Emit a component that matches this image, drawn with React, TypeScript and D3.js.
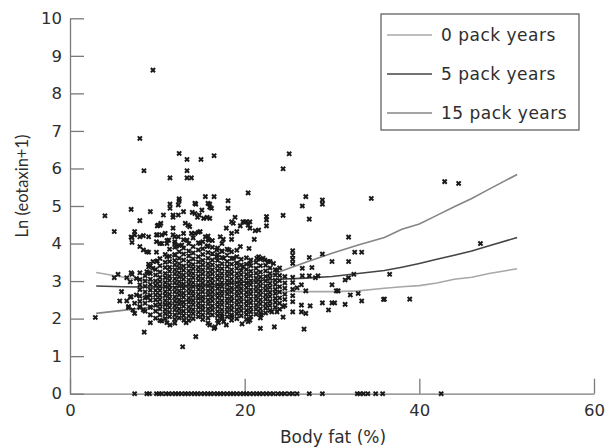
import React, { useEffect, useRef } from 'react';
import * as d3 from 'd3';

// tick values
const xTicks = [0, 20, 40, 60];
const yTicks = [0, 1, 2, 3, 4, 5, 6, 7, 8, 9, 10];

// fitted curves (body fat -> ln(eotaxin+1))
const curveX = [3, 6, 9, 12, 15, 18, 21, 24, 27, 30, 33, 36, 38, 40, 42, 44, 46, 48, 51.2];
const pack0 = [3.23, 3.11, 3.0, 2.93, 2.87, 2.82, 2.77, 2.73, 2.72, 2.72, 2.74, 2.81, 2.85, 2.88, 2.95, 3.05, 3.1, 3.2, 3.33];
const pack5 = [2.87, 2.85, 2.84, 2.85, 2.88, 2.93, 3.0, 3.05, 3.08, 3.12, 3.2, 3.28, 3.37, 3.47, 3.58, 3.69, 3.8, 3.94, 4.16];
const pack15 = [2.14, 2.22, 2.3, 2.42, 2.56, 2.75, 2.98, 3.25, 3.5, 3.74, 3.96, 4.16, 4.38, 4.52, 4.75, 4.98, 5.2, 5.45, 5.84];
const legendLabels = ['0 pack years', '5 pack years', '15 pack years'];

// scattered observations [body fat, ln(eotaxin+1)]
const outliers: [number, number][] = [
  [9.5, 8.62], [8.0, 6.8], [8.47, 5.94], [11.45, 5.75], [12.5, 6.4], [13.4, 6.24], [13.4, 5.94],
  [13.4, 5.75], [13.9, 5.75], [15.0, 6.24], [12.5, 5.19], [16.5, 6.34], [20.4, 5.35], [15.5, 5.25],
  [16.5, 5.25], [11.45, 5.05], [12.5, 5.14], [14.4, 5.05], [16.0, 5.05], [16.2, 4.94], [18.1, 5.14],
  [18.1, 4.94], [7.0, 4.91], [4.0, 4.74], [9.2, 4.85], [8.0, 4.61], [5.07, 4.32], [10.7, 4.76],
  [11.8, 4.7], [12.4, 4.76], [13.0, 4.85], [14.0, 4.83], [14.6, 4.7], [15.7, 4.7], [14.8, 4.76],
  [18.9, 4.7], [19.8, 4.58], [20.6, 4.58], [18.7, 4.54], [10.0, 4.47], [10.4, 4.54], [10.0, 4.23],
  [10.5, 4.23], [7.4, 4.32], [7.1, 4.16], [8.0, 4.18], [8.4, 4.21], [7.1, 4.03], [8.0, 3.92],
  [8.4, 3.83], [9.0, 3.77], [9.9, 3.77], [10.0, 3.54], [9.0, 3.45], [9.5, 3.34], [11.3, 4.09],
  [12.0, 4.18], [11.1, 3.65], [12.0, 3.69], [12.2, 3.93],
  [5.07, 3.09], [5.5, 3.18], [6.5, 3.09], [7.1, 3.18], [7.0, 3.22], [8.0, 3.22], [9.0, 3.22],
  [5.9, 2.72], [5.7, 2.47], [6.5, 2.47], [6.7, 2.32], [7.4, 2.41], [7.0, 2.58], [7.2, 2.23],
  [2.9, 2.03], [7.4, 2.14], [9.2, 1.89], [8.5, 1.64], [10.5, 1.94], [11.1, 1.89], [11.45, 1.83],
  [12.0, 1.88], [13.3, 1.89], [13.05, 1.96], [14.4, 1.52], [16.0, 1.83], [16.5, 1.74], [17.6, 1.92],
  [17.9, 1.83], [18.5, 1.96], [19.7, 1.86], [20.6, 1.96], [21.8, 1.74], [12.9, 1.25],
  [7.6, 2.63], [8.0, 2.32], [6.7, 2.3], [8.4, 2.23], [9.2, 2.3], [8.8, 2.58], [7.6, 3.07],
  [6.9, 2.98], [8.8, 3.25], [9.0, 3.38], [9.5, 3.52], [9.9, 3.52],
  [25.1, 6.39], [24.4, 5.99], [27.0, 5.25], [28.9, 5.16], [28.9, 5.05], [26.6, 5.0], [34.5, 5.2],
  [24.4, 4.75], [27.4, 4.65], [22.5, 4.72], [22.5, 4.63], [22.5, 4.47], [18.5, 4.58], [20.0, 4.57],
  [20.4, 4.49], [21.2, 4.34], [21.1, 4.11], [19.5, 4.47], [17.2, 4.18], [17.55, 4.11], [18.5, 4.11],
  [15.8, 4.11], [19.5, 3.92], [20.5, 3.87], [31.9, 4.17], [32.6, 3.77], [33.4, 3.77], [30.0, 3.52],
  [31.9, 3.52], [28.9, 3.72], [27.4, 3.63], [25.5, 3.81], [25.5, 3.69], [25.5, 3.58], [25.5, 3.47],
  [36.6, 3.18], [32.5, 3.18], [31.9, 3.09], [31.5, 3.03], [28.4, 3.14], [28.1, 3.09], [27.7, 3.36],
  [26.6, 3.34], [26.6, 3.14], [27.4, 3.14], [27.0, 2.74], [26.5, 2.9], [26.0, 2.82], [30.0, 2.9],
  [30.5, 2.74], [30.7, 2.74], [32.1, 2.63], [33.0, 2.67], [33.4, 2.47], [35.9, 2.51], [28.9, 2.42],
  [30.0, 2.42], [30.3, 2.42], [31.5, 2.38], [29.6, 2.23], [27.5, 2.34], [26.5, 2.36], [26.5, 2.18],
  [27.0, 2.14], [25.5, 2.18], [24.4, 2.32], [24.4, 2.04], [23.7, 2.18], [23.1, 2.18], [21.9, 2.1],
  [26.8, 1.72], [23.4, 1.78], [20.4, 1.92], [18.5, 2.05], [17.4, 2.05], [17.0, 1.89], [16.6, 1.78],
  [15.8, 1.88], [42.9, 5.65], [44.5, 5.6], [47.0, 4.0], [36.0, 2.52], [38.9, 2.52],
  [11.45, 4.94], [14.3, 5.07], [14.3, 4.8], [15.1, 4.89], [15.8, 5.07], [16.0, 4.97], [15.3, 4.67],
  [16.0, 4.67], [17.9, 4.41], [18.5, 4.27], [19.1, 4.32], [20.2, 4.58], [20.6, 4.41], [21.6, 4.36],
  [21.6, 3.65], [22.3, 3.56], [22.9, 3.52], [9.0, 4.18], [10.1, 4.49], [10.9, 4.27], [9.9, 4.05],
  [10.3, 4.0], [11.1, 4.0], [11.8, 4.23], [12.4, 4.18], [13.0, 4.27], [12.0, 4.0], [12.8, 3.96],
  [13.4, 4.09], [13.7, 4.45], [14.3, 4.27], [14.9, 4.32], [15.5, 4.18], [15.9, 4.09], [14.9, 4.0],
  [15.7, 3.92], [16.8, 3.83], [17.4, 3.79], [16.8, 3.65], [17.6, 3.61], [18.2, 3.83], [18.7, 3.61],
  [19.1, 3.47], [19.8, 3.38], [20.6, 3.47], [21.4, 3.61], [22.1, 3.61], [22.7, 3.52], [23.3, 3.47],
  [23.7, 3.29], [7.0, 4.17], [7.4, 4.23], [8.8, 3.78], [9.9, 4.23], [10.3, 4.49], [10.5, 4.0],
  [11.1, 4.08], [11.8, 4.76], [12.4, 5.03], [13.2, 4.54], [13.5, 4.49], [13.9, 4.27], [11.8, 4.41],
  [6.9, 2.58],
];

// dense core, read column by column: [body fat, ln values]
const coreColumns: [number, number[]][] = [
  [8.0, [2.3, 2.46, 2.6, 2.77, 2.9, 3.04]],
  [8.6, [2.2, 2.41, 2.55, 2.71, 2.86, 3.0, 3.14]],
  [9.2, [2.1, 2.31, 2.49, 2.62, 2.76, 2.91, 3.05, 3.2, 3.41]],
  [9.8, [2.01, 2.2, 2.36, 2.5, 2.63, 2.75, 2.89, 3.0, 3.16, 3.31]],
  [10.3, [1.95, 2.1, 2.26, 2.38, 2.51, 2.62, 2.75, 2.86, 2.99, 3.1, 3.24, 3.41, 3.6]],
  [10.9, [2.0, 2.13, 2.24, 2.37, 2.48, 2.61, 2.72, 2.85, 2.96, 3.09, 3.2, 3.36, 3.5, 3.71]],
  [11.4, [2.05, 2.17, 2.3, 2.41, 2.54, 2.65, 2.78, 2.89, 3.02, 3.13, 3.26, 3.37, 3.52, 3.66, 3.85]],
  [12.0, [1.98, 2.1, 2.23, 2.34, 2.47, 2.58, 2.71, 2.82, 2.95, 3.06, 3.19, 3.3, 3.43, 3.55, 3.71, 3.9, 4.05]],
  [12.5, [2.02, 2.15, 2.26, 2.39, 2.5, 2.63, 2.74, 2.87, 2.98, 3.11, 3.22, 3.35, 3.46, 3.61, 3.78, 3.95]],
  [13.0, [2.08, 2.2, 2.33, 2.44, 2.57, 2.68, 2.81, 2.92, 3.05, 3.16, 3.29, 3.4, 3.56, 3.72, 3.88, 4.1]],
  [13.6, [1.95, 2.07, 2.2, 2.31, 2.44, 2.55, 2.68, 2.79, 2.92, 3.03, 3.16, 3.27, 3.4, 3.52, 3.67, 3.8, 4.0]],
  [14.1, [2.0, 2.13, 2.24, 2.37, 2.48, 2.61, 2.72, 2.85, 2.96, 3.09, 3.2, 3.33, 3.44, 3.59, 3.75, 3.92, 4.15]],
  [14.7, [2.05, 2.17, 2.3, 2.41, 2.54, 2.65, 2.78, 2.89, 3.02, 3.13, 3.26, 3.37, 3.51, 3.65, 3.83, 4.02, 4.3]],
  [15.2, [1.98, 2.1, 2.23, 2.34, 2.47, 2.58, 2.71, 2.82, 2.95, 3.06, 3.19, 3.3, 3.43, 3.55, 3.71, 3.86, 4.05]],
  [15.8, [2.02, 2.15, 2.26, 2.39, 2.5, 2.63, 2.74, 2.87, 2.98, 3.11, 3.22, 3.35, 3.46, 3.61, 3.76, 3.94, 4.2]],
  [16.3, [2.1, 2.23, 2.34, 2.47, 2.58, 2.71, 2.82, 2.95, 3.06, 3.19, 3.3, 3.43, 3.56, 3.73, 3.9, 4.08]],
  [16.9, [1.95, 2.08, 2.19, 2.32, 2.43, 2.56, 2.67, 2.8, 2.91, 3.04, 3.15, 3.28, 3.4, 3.55, 3.7, 3.88]],
  [17.4, [2.0, 2.13, 2.24, 2.37, 2.48, 2.61, 2.72, 2.85, 2.96, 3.09, 3.2, 3.33, 3.46, 3.63, 3.8, 4.0]],
  [18.0, [2.05, 2.18, 2.29, 2.42, 2.53, 2.66, 2.77, 2.9, 3.01, 3.14, 3.25, 3.39, 3.52, 3.69, 3.85]],
  [18.5, [2.1, 2.23, 2.34, 2.47, 2.58, 2.71, 2.82, 2.95, 3.06, 3.19, 3.3, 3.45, 3.6, 3.78]],
  [19.1, [2.0, 2.13, 2.24, 2.37, 2.48, 2.61, 2.72, 2.85, 2.96, 3.09, 3.2, 3.34, 3.48, 3.65, 3.82]],
  [19.6, [2.08, 2.21, 2.32, 2.45, 2.56, 2.69, 2.8, 2.93, 3.04, 3.17, 3.28, 3.43, 3.58]],
  [20.2, [1.98, 2.11, 2.22, 2.35, 2.46, 2.59, 2.7, 2.83, 2.94, 3.07, 3.18, 3.31, 3.45, 3.62]],
  [20.7, [2.05, 2.18, 2.29, 2.42, 2.53, 2.66, 2.77, 2.9, 3.01, 3.14, 3.26, 3.41, 3.56]],
  [21.3, [2.12, 2.25, 2.36, 2.49, 2.6, 2.73, 2.84, 2.97, 3.08, 3.21, 3.34, 3.5]],
  [21.8, [2.02, 2.15, 2.26, 2.39, 2.5, 2.63, 2.74, 2.87, 2.98, 3.11, 3.24, 3.41, 3.58]],
  [22.4, [2.15, 2.28, 2.39, 2.52, 2.63, 2.76, 2.87, 3.0, 3.12, 3.27, 3.42]],
  [22.9, [2.22, 2.35, 2.46, 2.59, 2.7, 2.83, 2.94, 3.08, 3.2, 3.35]],
  [23.5, [2.3, 2.43, 2.54, 2.67, 2.78, 2.91, 3.02, 3.16, 3.3]],
  [24.0, [2.25, 2.41, 2.55, 2.71, 2.85, 3.01, 3.15, 3.35]],
  [24.6, [2.35, 2.51, 2.65, 2.81, 2.95, 3.12]],
  [25.5, [2.45, 2.61, 2.78, 2.96, 3.1]],
];

// observations recorded at zero
const zeroRow = [
  7.4, 8.8, 9.1, 9.9, 10.2, 10.5, 11.0, 11.3, 11.7, 12.1, 12.4, 12.8, 13.2, 13.5, 13.9, 14.3, 14.6,
  15.0, 15.4, 15.8, 16.1, 16.5, 16.9, 17.2, 17.6, 18.0, 18.4, 18.7, 19.1, 19.5, 19.9, 20.2, 20.6,
  21.0, 21.4, 21.7, 22.1, 22.5, 22.9, 23.3, 23.8, 24.2, 24.6, 25.1, 25.5, 26.0, 27.4, 28.9, 32.9,
  33.2, 33.6, 34.1, 35.0, 35.8, 42.5,
];

const FONT = '"DejaVu Sans", Lato, sans-serif';
const TEXT = '#2e2e2e';

const App = () => {
  const svgRef = useRef<SVGSVGElement>(null);

  useEffect(() => {
    const svg = d3.select(svgRef.current);
    svg.selectAll('*').remove();

    const x = d3.scaleLinear().domain([0, 60]).range([70, 594]);
    const y = d3.scaleLinear().domain([0, 10]).range([393.7, 18.3]);

    // axes, ticks point inward
    const gx = svg
      .append('g')
      .attr('transform', `translate(0,${y(0)})`)
      .call(d3.axisBottom(x).tickValues(xTicks).tickSize(-15).tickSizeOuter(0).tickPadding(11));
    const gy = svg
      .append('g')
      .attr('transform', `translate(${x(0)},0)`)
      .call(d3.axisLeft(y).tickValues(yTicks).tickSize(-14).tickSizeOuter(0).tickPadding(8));
    [gx, gy].forEach((g) => {
      g.selectAll('path, line').attr('stroke', '#7a7a7a').attr('stroke-width', 1.3);
      g.selectAll('text').attr('font-family', FONT).attr('font-size', 16.5).attr('fill', TEXT);
    });

    // fitted curves under the points
    const line = d3
      .line<number>()
      .x((_, i) => x(curveX[i]))
      .y((d) => y(d));
    const series = [
      { values: pack0, color: '#a8a8a8' },
      { values: pack5, color: '#444444' },
      { values: pack15, color: '#858585' },
    ];
    series.forEach((s) => {
      svg
        .append('path')
        .datum(s.values)
        .attr('fill', 'none')
        .attr('stroke', s.color)
        .attr('stroke-width', 1.6)
        .attr('d', line);
    });

    const points: [number, number][] = [
      ...outliers,
      ...coreColumns.flatMap(([cx, ys]) => ys.map((v) => [cx, v] as [number, number])),
      ...zeroRow.map((v) => [v, 0] as [number, number]),
    ];
    const mark = d3.symbol().type(d3.symbolTimes).size(13)();
    svg
      .append('g')
      .selectAll('path')
      .data(points)
      .join('path')
      .attr('transform', (d) => `translate(${x(d[0])},${y(d[1])})`)
      .attr('d', mark)
      .attr('fill', 'none')
      .attr('stroke', '#1a1a1a')
      .attr('stroke-width', 2);

    // axis titles
    svg
      .append('text')
      .attr('x', 333)
      .attr('y', 443)
      .attr('text-anchor', 'middle')
      .attr('font-family', FONT)
      .attr('font-size', 17)
      .attr('fill', TEXT)
      .text('Body fat (%)');
    svg
      .append('text')
      .attr('transform', 'translate(28,186) rotate(-90)')
      .attr('text-anchor', 'middle')
      .attr('font-family', 'Lato, sans-serif')
      .attr('font-size', 16.5)
      .attr('fill', TEXT)
      .text('Ln (eotaxin+1)');

    // legend
    const lg = svg.append('g');
    lg.append('rect')
      .attr('x', 381)
      .attr('y', 14)
      .attr('width', 198)
      .attr('height', 116)
      .attr('fill', '#fff')
      .attr('stroke', '#555')
      .attr('stroke-width', 1.2);
    legendLabels.forEach((label, i) => {
      const ly = 35 + i * 39;
      lg.append('line')
        .attr('x1', 387)
        .attr('x2', 432)
        .attr('y1', ly)
        .attr('y2', ly)
        .attr('stroke', series[i].color)
        .attr('stroke-width', 1.6);
      lg.append('text')
        .attr('x', 441)
        .attr('y', ly + 6)
        .attr('font-family', FONT)
        .attr('font-size', 17)
        .attr('letter-spacing', 0.5)
        .attr('fill', TEXT)
        .text(label);
    });
  }, []);

  return (
    <svg
      ref={svgRef}
      width={606}
      height={447}
      style={{ position: 'absolute', left: 0, top: 0, background: '#fff' }}
    />
  );
};

export default App;
